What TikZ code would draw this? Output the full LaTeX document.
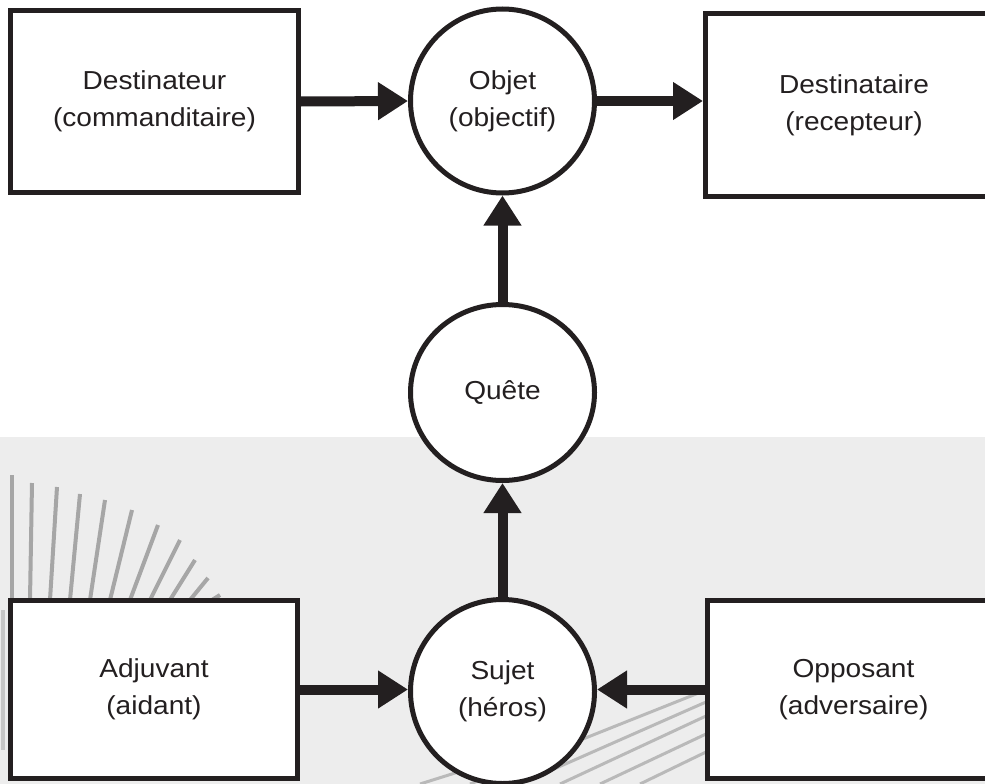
\documentclass[tikz,border=0pt]{standalone}
\usepackage{fontspec}
\setmainfont[FakeStretch=1.08]{Liberation Sans}
\usetikzlibrary{arrows.meta,shapes.geometric}
\definecolor{ink}{RGB}{35,31,32}
\begin{document}
\begin{tikzpicture}[x=1pt,y=-1pt,
  lbl/.style={font=\fontsize{26}{37}\selectfont,text=ink,align=center},
  box/.style={lbl,draw=ink,line width=5pt,fill=white,rectangle,inner sep=0pt},
  disc/.style={lbl,draw=ink,line width=5pt,fill=white,circle,inner sep=0pt,minimum size=184pt},
  oval/.style={lbl,draw=ink,line width=5pt,fill=white,ellipse,inner sep=0pt,minimum width=184pt,minimum height=176pt},
  flow/.style={draw=ink,line width=10pt,-{Triangle[length=30pt,width=36pt]}},
  spoke/.style={draw=gray!70,line width=4pt},
  streak/.style={draw=gray!55,line width=3pt}]
\useasboundingbox (0,0) rectangle (985,784);
\clip (0,0) rectangle (985,784);
% textured lower background
\fill[black!7] (0,437) rectangle (985,784);
% fan of spokes (left)
\draw[spoke] (12,475) -- (12,600);
\draw[spoke] (32,483) -- (30,600);
\draw[spoke] (57,487) -- (50,600);
\draw[spoke] (80,494) -- (70,600);
\draw[spoke] (105,500) -- (90,600);
\draw[spoke] (132,510) -- (110,600);
\draw[spoke] (158,525) -- (130,600);
\draw[spoke] (180,540) -- (150,600);
\draw[spoke] (195,560) -- (170,600);
\draw[spoke] (208,578) -- (190,600);
\draw[spoke] (220,595) -- (212,600);
\draw[spoke,draw=gray!45] (3,610) -- (3,750);
% streaks (bottom centre)
\draw[streak] (470,784) -- (706,690);
\draw[streak] (520,784) -- (706,702);
\draw[streak] (560,784) -- (706,716);
\draw[streak] (600,784) -- (706,734);
\draw[streak] (640,784) -- (706,752);
\draw[streak] (420,784) -- (560,740);
% nodes
\node[box,minimum width=288pt,minimum height=182pt] (dtr) at (154.5,101.5) {Destinateur\\(commanditaire)};
\node[disc] (obj) at (502.5,101) {Objet\\(objectif)};
\node[box,minimum width=297pt,minimum height=183pt] (dta) at (854,105) {Destinataire\\(recepteur)};
\node[oval] (que) at (502.5,392.5) {Quête};
\node[disc] (suj) at (502.5,691.5) {Sujet\\(héros)};
\node[box,minimum width=287pt,minimum height=178pt] (adj) at (154,689.5) {Adjuvant\\(aidant)};
\node[box,minimum width=292pt,minimum height=178pt] (opp) at (853.5,689.5) {Opposant\\(adversaire)};
% connectors
\draw[flow] (dtr.east) -- (obj.west);
\draw[flow] (obj.east) -- (obj.east -| dta.west);
\draw[flow] (que.north) -- (obj.south);
\draw[flow] (suj.north) -- (que.south);
\draw[flow] (adj.east) -- (adj.east -| suj.west);
\draw[flow] (opp.west) -- (opp.west -| suj.east);
\end{tikzpicture}
\end{document}
